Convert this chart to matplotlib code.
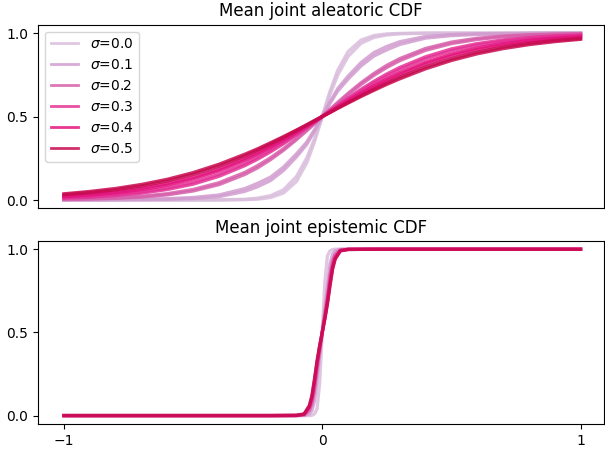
import matplotlib
matplotlib.use("Agg")
import matplotlib.pyplot as plt

sigmas = ["0.0", "0.1", "0.2", "0.3", "0.4", "0.5"]

# aleatoric CDF: x grid and two runs per sigma
x_alea = [-1.0, -0.9, -0.8, -0.7, -0.6, -0.5, -0.4, -0.3, -0.25, -0.2, -0.15, -0.1, -0.06, -0.03, 0.0,
          0.03, 0.06, 0.1, 0.15, 0.2, 0.25, 0.3, 0.4, 0.5, 0.6, 0.7, 0.8, 0.9, 1.0]

alea_s00_a = [0, 0, 0, 0, 0, 0, 0.0002, 0.002, 0.005, 0.015, 0.042, 0.111, 0.223, 0.349, 0.5,
              0.651, 0.777, 0.889, 0.958, 0.985, 0.995, 0.998, 0.9998, 1, 1, 1, 1, 1, 1]
alea_s00_b = [0, 0, 0, 0, 0, 0.0001, 0.0007, 0.004, 0.011, 0.026, 0.061, 0.14, 0.251, 0.367, 0.5,
              0.633, 0.749, 0.86, 0.939, 0.974, 0.989, 0.996, 0.9993, 0.9999, 1, 1, 1, 1, 1]
alea_s01_a = [0.0003, 0.0006, 0.0012, 0.0025, 0.004, 0.009, 0.02, 0.052, 0.08, 0.117, 0.177, 0.258, 0.333, 0.413, 0.5,
              0.587, 0.667, 0.742, 0.823, 0.883, 0.92, 0.948, 0.98, 0.991, 0.996, 0.9975, 0.9988, 0.9994, 0.9997]
alea_s01_b = [0.0008, 0.0014, 0.0028, 0.0055, 0.008, 0.015, 0.03, 0.068, 0.1, 0.137, 0.197, 0.276, 0.347, 0.421, 0.5,
              0.579, 0.653, 0.724, 0.803, 0.863, 0.9, 0.932, 0.97, 0.985, 0.992, 0.9945, 0.9972, 0.9986, 0.9992]
alea_s02_a = [0.003, 0.006, 0.010, 0.018, 0.031, 0.054, 0.092, 0.153, 0.193, 0.242, 0.298, 0.361, 0.415, 0.457, 0.5,
              0.543, 0.585, 0.639, 0.702, 0.758, 0.807, 0.847, 0.908, 0.946, 0.969, 0.982, 0.990, 0.994, 0.997]
alea_s02_b = [0.004, 0.008, 0.013, 0.022, 0.038, 0.063, 0.103, 0.165, 0.206, 0.253, 0.308, 0.368, 0.420, 0.460, 0.5,
              0.540, 0.580, 0.632, 0.692, 0.747, 0.794, 0.835, 0.897, 0.937, 0.962, 0.978, 0.987, 0.992, 0.996]
alea_s03_a = [0.011, 0.017, 0.027, 0.041, 0.063, 0.095, 0.142, 0.206, 0.245, 0.289, 0.337, 0.389, 0.433, 0.466, 0.5,
              0.534, 0.567, 0.611, 0.663, 0.711, 0.755, 0.794, 0.858, 0.905, 0.937, 0.959, 0.973, 0.983, 0.989]
alea_s03_b = [0.014, 0.021, 0.032, 0.048, 0.072, 0.106, 0.154, 0.218, 0.257, 0.299, 0.346, 0.395, 0.437, 0.468, 0.5,
              0.532, 0.563, 0.605, 0.654, 0.701, 0.743, 0.782, 0.846, 0.894, 0.928, 0.952, 0.968, 0.979, 0.986]
alea_s04_a = [0.020, 0.030, 0.043, 0.062, 0.089, 0.126, 0.175, 0.238, 0.275, 0.315, 0.359, 0.404, 0.442, 0.471, 0.5,
              0.529, 0.558, 0.596, 0.641, 0.685, 0.725, 0.762, 0.825, 0.874, 0.911, 0.938, 0.957, 0.970, 0.980]
alea_s04_b = [0.024, 0.034, 0.049, 0.070, 0.098, 0.136, 0.185, 0.248, 0.284, 0.323, 0.365, 0.409, 0.445, 0.472, 0.5,
              0.528, 0.555, 0.591, 0.635, 0.677, 0.716, 0.752, 0.815, 0.864, 0.902, 0.930, 0.951, 0.966, 0.976]
alea_s05_a = [0.032, 0.044, 0.061, 0.084, 0.114, 0.154, 0.203, 0.264, 0.299, 0.336, 0.375, 0.416, 0.449, 0.475, 0.5,
              0.525, 0.551, 0.584, 0.625, 0.664, 0.701, 0.736, 0.797, 0.846, 0.886, 0.916, 0.939, 0.956, 0.968]
alea_s05_b = [0.037, 0.051, 0.069, 0.093, 0.124, 0.164, 0.214, 0.274, 0.307, 0.343, 0.380, 0.419, 0.451, 0.476, 0.5,
              0.524, 0.549, 0.581, 0.620, 0.657, 0.693, 0.726, 0.786, 0.836, 0.876, 0.907, 0.931, 0.949, 0.963]

alea_runs = [
    [alea_s00_a, alea_s00_b],
    [alea_s01_a, alea_s01_b],
    [alea_s02_a, alea_s02_b],
    [alea_s03_a, alea_s03_b],
    [alea_s04_a, alea_s04_b],
    [alea_s05_a, alea_s05_b],
]

# epistemic CDF
x_epi = [-1.0, -0.5, -0.2, -0.1, -0.07, -0.05, -0.04, -0.03, -0.02, -0.01, 0.0,
         0.01, 0.02, 0.03, 0.04, 0.05, 0.07, 0.1, 0.2, 0.5, 1.0]
epi_s00 = [0, 0, 0, 0, 0, 0, 0.002, 0.01, 0.04, 0.2, 0.5, 0.8, 0.96, 0.99, 0.998, 1, 1, 1, 1, 1, 1]
epi_s01 = [0, 0, 0, 0, 0.001, 0.01, 0.03, 0.09, 0.22, 0.36, 0.5, 0.64, 0.78, 0.91, 0.97, 0.99, 1, 1, 1, 1, 1]
epi_s02 = [0, 0, 0, 0, 0.004, 0.03, 0.07, 0.15, 0.28, 0.39, 0.5, 0.61, 0.72, 0.85, 0.93, 0.97, 0.996, 1, 1, 1, 1]
epi_s03 = [0, 0, 0, 0.001, 0.007, 0.045, 0.1, 0.19, 0.31, 0.41, 0.5, 0.59, 0.69, 0.81, 0.9, 0.955, 0.993, 0.999, 1, 1, 1]
epi_s04 = [0, 0, 0, 0.001, 0.009, 0.055, 0.11, 0.21, 0.32, 0.415, 0.5, 0.585, 0.68, 0.79, 0.89, 0.945, 0.991, 0.999, 1, 1, 1]
epi_s05 = [0, 0, 0, 0.001, 0.01, 0.06, 0.12, 0.22, 0.33, 0.42, 0.5, 0.58, 0.67, 0.78, 0.88, 0.94, 0.99, 0.999, 1, 1, 1]
epi_runs = [epi_s00, epi_s01, epi_s02, epi_s03, epi_s04, epi_s05]

colors = ['#dabedd', '#d19dcf', '#d760ab', '#e43095', '#e3147e', '#c80a50']
ALPHA = 0.85
LW = 2.4

fig = plt.figure(figsize=(6.05, 4.5), dpi=100)
ax1 = fig.add_axes([0.063, 0.537, 0.935, 0.408])
ax2 = fig.add_axes([0.063, 0.058, 0.935, 0.4066], sharex=ax1)

for i, s in enumerate(sigmas):
    for j, run in enumerate(alea_runs[i]):
        ax1.plot(x_alea, run, color=colors[i], alpha=ALPHA, lw=LW,
                 label=(r"$\sigma$=" + s) if j == 0 else None)
    ax2.plot(x_epi, epi_runs[i], color=colors[i], alpha=ALPHA, lw=LW)

ax1.set_title("Mean joint aleatoric CDF")
ax2.set_title("Mean joint epistemic CDF")
for ax in (ax1, ax2):
    ax.set_yticks([0.0, 0.5, 1.0])
    ax.set_ylim(-0.05, 1.05)
ax2.set_xticks([-1, 0, 1])
ax2.set_xlim(-1.1, 1.09)
plt.setp(ax1.get_xticklabels(), visible=False)
ax1.tick_params(axis='x', length=0)
leg = ax1.legend(loc='upper left')
for h in leg.get_lines():
    h.set_linewidth(2.0)

fig.savefig("out.png", dpi=100)
